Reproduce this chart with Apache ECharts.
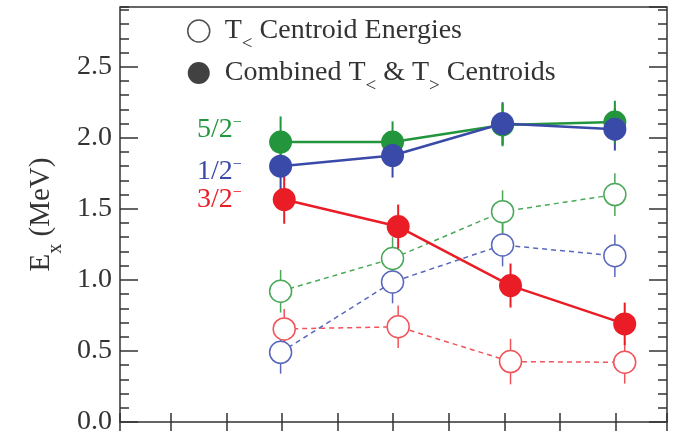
<!DOCTYPE html>
<html>
<head>
<meta charset="utf-8">
<script src="https://cdn.jsdelivr.net/npm/echarts@6/dist/echarts.min.js"></script>
<style>html,body{margin:0;padding:0;background:#fff}#c{width:682px;height:436px}</style>
</head>
<body>
<div id="c"></div>
<script>
// x positions (tick units; ticks at 1..9)
const xGreenBlue = [2.976, 4.988, 6.965, 8.983];
const xRed = [3.041, 5.089, 7.108, 9.16];

// Combined T< & T> centroids (filled)
const green52 = [1.97, 1.97, 2.09, 2.11];
const green52Err = [0.18, 0.145, 0.15, 0.15];
const blue12 = [1.80, 1.875, 2.10, 2.06];
const blue12Err = [0.18, 0.155, 0.15, 0.15];
const red32 = [1.565, 1.375, 0.96, 0.69];
const red32Err = [0.17, 0.155, 0.155, 0.15];

// T< centroid energies (open)
const green52Open = [0.92, 1.15, 1.48, 1.60];
const green52OpenErr = [0.15, 0.15, 0.15, 0.15];
const blue12Open = [0.49, 0.985, 1.245, 1.17];
const blue12OpenErr = [0.15, 0.15, 0.15, 0.15];
const red32Open = [0.655, 0.67, 0.425, 0.42];
const red32OpenErr = [0.14, 0.15, 0.16, 0.15];

const yTicks = [0, 0.5, 1.0, 1.5, 2.0, 2.5];

const FONT = 'Liberation Serif';
const C = {
  green: '#23963d', blue: '#3a4aa8', red: '#ea1d27',
  greenL: '#4aa858', blueL: '#5a68bc', redL: '#f0535a'
};

function pts(xs, ys) { return xs.map((x, i) => [x, ys[i]]); }
function errPts(xs, ys, es) { return xs.map((x, i) => [x, ys[i], es[i]]); }

function errSeries(xs, ys, es, color, w, z) {
  return {
    type: 'custom', z: z, silent: true,
    data: errPts(xs, ys, es),
    encode: { x: 0, y: 1 },
    renderItem: function (params, api) {
      const x = api.value(0), y = api.value(1), e = api.value(2);
      const p1 = api.coord([x, y + e]), p2 = api.coord([x, y - e]);
      return { type: 'line', shape: { x1: p1[0], y1: p1[1], x2: p2[0], y2: p2[1] },
               style: { stroke: color, lineWidth: w } };
    }
  };
}
function openSeries(name, xs, ys, color) {
  return {
    name: name, type: 'line', z: 3, data: pts(xs, ys),
    symbol: 'circle', symbolSize: 22,
    lineStyle: { color: color, width: 1.5, type: [5, 4] },
    itemStyle: { color: '#fff', borderColor: color, borderWidth: 1.5 }
  };
}
function filledSeries(name, xs, ys, color) {
  return {
    name: name, type: 'line', z: 5, data: pts(xs, ys),
    symbol: 'circle', symbolSize: 23,
    lineStyle: { color: color, width: 2.5 },
    itemStyle: { color: color, borderWidth: 0 }
  };
}

const chart = echarts.init(document.getElementById('c'), null, { renderer: 'canvas' });

const yBase = { type: 'value', min: 0, max: 2.92, axisLine: { show: false }, splitLine: { show: false } };
const xBase = { type: 'value', min: 0.09, max: 9.92, splitNumber: 10, axisLine: { show: false }, splitLine: { show: false },
  axisLabel: { show: false }, axisTick: { inside: true, length: 9, lineStyle: { color: '#333', width: 1.5 } } };

const spinRich = (col) => ({
  n: { fontFamily: FONT, fontSize: 28, fill: col, lineHeight: 30 },
  s: { fontFamily: FONT, fontSize: 16, fill: col, verticalAlign: 'top', lineHeight: 16 }
});

chart.setOption({
  animation: false,
  backgroundColor: '#fff',
  grid: { left: 120, right: 15, top: 7, bottom: 12.5, show: true, borderColor: '#333', borderWidth: 1.5, backgroundColor: 'transparent' },
  xAxis: [
    Object.assign({}, xBase, { position: 'bottom' }),
    Object.assign({}, xBase, { position: 'top' })
  ],
  yAxis: [
    Object.assign({}, yBase, {
      position: 'left', interval: 0.5,
      axisTick: { inside: true, length: 18, lineStyle: { color: '#333', width: 1.5 } },
      axisLabel: { margin: 8, color: '#333', fontFamily: FONT, fontSize: 28, showMaxLabel: false,
        formatter: v => (yTicks.some(t => Math.abs(t - v) < 1e-6) ? v.toFixed(1) : '') },
      name: '{a|E}{s|x}{a| (MeV)}', nameLocation: 'middle', nameGap: 56, nameRotate: 90,
      nameTextStyle: { color: '#333', rich: {
        a: { fontFamily: FONT, fontSize: 29, color: '#333', lineHeight: 32, verticalAlign: 'middle' },
        s: { fontFamily: FONT, fontSize: 20, color: '#333', lineHeight: 16, padding: [21, 0, 0, 0], verticalAlign: 'top' } } }
    }),
    Object.assign({}, yBase, { position: 'left', interval: 0.1, axisLabel: { show: false },
      axisTick: { inside: true, length: 9, lineStyle: { color: '#333', width: 1.5 } } }),
    Object.assign({}, yBase, { position: 'right', interval: 0.5, axisLabel: { show: false },
      axisTick: { inside: true, length: 18, lineStyle: { color: '#333', width: 1.5 } } }),
    Object.assign({}, yBase, { position: 'right', interval: 0.1, axisLabel: { show: false },
      axisTick: { inside: true, length: 9, lineStyle: { color: '#333', width: 1.5 } } })
  ],
  legend: {
    orient: 'vertical', left: 187, top: 16, padding: 0, itemWidth: 22, itemHeight: 22, itemGap: 4,
    selectedMode: false,
    data: [
      { name: 'open', icon: 'circle', itemStyle: { color: '#fff', borderColor: '#222', borderWidth: 1.5 } },
      { name: 'filled', icon: 'circle', itemStyle: { color: '#111', borderWidth: 0 } }
    ],
    formatter: function (name) {
      return name === 'open' ? '{a|T}{s|<}{a| Centroid Energies}'
                             : '{a|Combined T}{s|<}{a| & T}{s|>}{a| Centroids}';
    },
    textStyle: { padding: [0, 0, 0, 10], rich: {
      a: { fontFamily: FONT, fontSize: 28, color: '#333', lineHeight: 30, verticalAlign: 'middle' },
      s: { fontFamily: FONT, fontSize: 19, color: '#333', lineHeight: 16, padding: [19, 0, 0, 0], verticalAlign: 'top' } } }
  },
  graphic: [
    { type: 'text', left: 197, top: 115, style: { text: '{n|5/2}{s|−}', rich: spinRich(C.green) } },
    { type: 'text', left: 197, top: 157, style: { text: '{n|1/2}{s|−}', rich: spinRich(C.blue) } },
    { type: 'text', left: 197, top: 185, style: { text: '{n|3/2}{s|−}', rich: spinRich(C.red) } }
  ],
  series: [
    { name: 'open', type: 'scatter', data: [], itemStyle: { color: '#fff', borderColor: '#222', borderWidth: 1.5 } },
    { name: 'filled', type: 'scatter', data: [], itemStyle: { color: '#111' } },
    errSeries(xRed, red32Open, red32OpenErr, C.redL, 1.5, 2),
    errSeries(xGreenBlue, blue12Open, blue12OpenErr, C.blueL, 1.5, 2),
    errSeries(xGreenBlue, green52Open, green52OpenErr, C.greenL, 1.5, 2),
    openSeries('red open', xRed, red32Open, C.redL),
    openSeries('blue open', xGreenBlue, blue12Open, C.blueL),
    openSeries('green open', xGreenBlue, green52Open, C.greenL),
    errSeries(xRed, red32, red32Err, C.red, 2, 4),
    errSeries(xGreenBlue, blue12, blue12Err, C.blue, 2, 4),
    errSeries(xGreenBlue, green52, green52Err, C.green, 2, 4),
    filledSeries('red filled', xRed, red32, C.red),
    filledSeries('green filled', xGreenBlue, green52, C.green),
    filledSeries('blue filled', xGreenBlue, blue12, C.blue)
  ]
});
</script>
</body>
</html>
